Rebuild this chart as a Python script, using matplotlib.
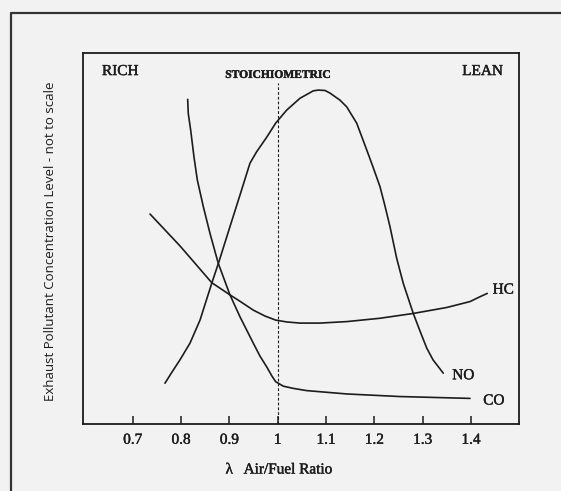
import numpy as np
import matplotlib.pyplot as plt
import matplotlib.patheffects as pe
from matplotlib.lines import Line2D

plt.rcParams['font.family'] = ['Liberation Serif', 'DejaVu Serif']

# air/fuel ratio (lambda) and relative pollutant levels, arbitrary units 0-100
lam_no = [0.7668, 0.7813, 0.7979, 0.8186, 0.8393, 0.8635, 0.8786, 0.9013, 0.9220,
          0.9427, 0.9566, 0.9773, 0.9959, 1.0186, 1.0462, 1.0737, 1.0840, 1.0979,
          1.1082, 1.1289, 1.1428, 1.1635, 1.1842, 1.1972, 1.2117, 1.2220, 1.2324,
          1.2462, 1.2599, 1.2806, 1.2944, 1.3083, 1.3214, 1.3427]
no_level = [11.0, 14.0, 17.3, 21.8, 28.0, 37.9, 43.8, 53.2, 61.7,
            70.3, 73.4, 77.3, 81.1, 84.6, 87.8, 89.8, 90.0, 89.9,
            89.2, 87.3, 85.5, 81.1, 73.9, 69.3, 64.0, 58.8, 53.2,
            44.7, 37.9, 29.8, 25.1, 20.5, 17.3, 13.7]

lam_co = [0.8138, 0.8150, 0.8200, 0.8268, 0.8337, 0.8461, 0.8599, 0.8771, 0.9013,
          0.9220, 0.9495, 0.9634, 0.9773, 0.9882, 0.9959, 1.0116, 1.0323, 1.0600,
          1.0875, 1.1428, 1.2531, 1.3980]
co_level = [87.5, 83.7, 79.2, 72.0, 65.8, 58.6, 51.4, 43.3, 34.8,
            28.9, 21.8, 18.3, 15.4, 12.9, 11.4, 10.2, 9.6, 9.0,
            8.7, 8.1, 7.4, 6.9]

lam_hc = [0.7358, 0.7979, 0.8635, 0.9013, 0.9241, 0.9495, 0.9737, 0.9959, 1.0193,
          1.0462, 1.0875, 1.1428, 1.2117, 1.2806, 1.3497, 1.3980, 1.4186, 1.4337]
hc_level = [56.6, 48.0, 38.1, 34.8, 32.9, 30.7, 29.1, 28.0, 27.5,
            27.2, 27.2, 27.6, 28.5, 29.8, 31.4, 33.0, 34.3, 35.2]

ticks = [0.7, 0.8, 0.9, 1.0, 1.1, 1.2, 1.3, 1.4]
tick_labels = ['0.7', '0.8', '0.9', '1', '1.1', '1.2', '1.3', '1.4']

bg = '#f2f2f2'
ink = '#1c1c1c'
heavy = [pe.withStroke(linewidth=0.3, foreground=ink)]

fig = plt.figure(figsize=(5.61, 4.91), dpi=100, facecolor=bg)
ax = fig.add_axes([83.4 / 561, 67 / 491, 435.9 / 561, 371 / 491])
ax.set_facecolor(bg)
ax.set_xlim(0.598, 1.5)
ax.set_ylim(0, 100)

for lam, lev in [(lam_no, no_level), (lam_co, co_level), (lam_hc, hc_level)]:
    ax.plot(lam, lev, color=ink, lw=1.2, solid_capstyle='round',
            solid_joinstyle='round')

# stoichiometric line
ax.plot([1.0, 1.0], [0, 91.9], color=ink, lw=0.8, ls=(0, (2.5, 1.8)))

ax.text(1.0, 94.1, 'STOICHIOMETRIC', ha='center', va='center',
        fontsize=8.3, fontweight='bold', color=ink, path_effects=heavy)
ax.text(0.6365, 95.0, 'RICH', ha='left', va='center', fontsize=11, color=ink,
        path_effects=heavy)
ax.text(1.4662, 95.0, 'LEAN', ha='right', va='center', fontsize=11, color=ink,
        path_effects=heavy)

for name, x, y in [('HC', 1.4449, 36.1), ('NO', 1.3613, 13.0), ('CO', 1.4254, 6.2)]:
    ax.text(x, y, name, ha='left', va='center', fontsize=11, color=ink,
            path_effects=heavy)

ax.set_xticks(ticks)
ax.set_xticklabels(tick_labels, fontsize=11, color=ink)
for lbl in ax.get_xticklabels():
    lbl.set_path_effects(heavy)
ax.set_yticks([])
ax.tick_params(axis='x', direction='in', length=6, width=1.1, pad=7, colors=ink)
for sp in ax.spines.values():
    sp.set_linewidth(1.3)
    sp.set_color(ink)

fig.text(279 / 561, 21 / 491, 'λ   Air/Fuel Ratio', ha='center', va='center',
         fontsize=11, color=ink, path_effects=heavy)
fig.text(51 / 561, 250 / 491, 'Exhaust Pollutant Concentration Level - not to scale',
         rotation=90, ha='center', va='center', fontsize=9.5, color=ink,
         family=['Open Sans', 'DejaVu Sans'])

# outer frame, left and top edges
fig.add_artist(Line2D([11 / 561, 11 / 561, 1.0], [0.0, 478.5 / 491, 478.5 / 491],
                      transform=fig.transFigure, color='#333333', lw=1.6))

fig.savefig('out.png', dpi=100, facecolor=bg)
